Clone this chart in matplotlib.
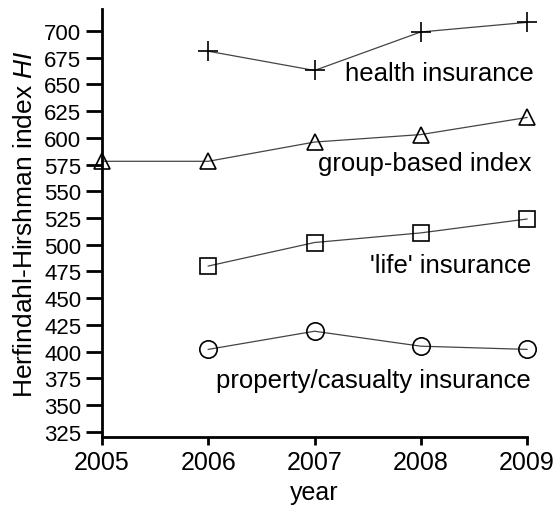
import matplotlib

matplotlib.use("Agg")

import matplotlib.pyplot as plt

years = [2005, 2006, 2007, 2008, 2009]

health_years = [2006, 2007, 2008, 2009]
health = [681, 663, 699, 708]

group_years = [2005, 2006, 2007, 2008, 2009]
group = [578, 578, 596, 603, 619]

life_years = [2006, 2007, 2008, 2009]
life = [480, 502, 511, 524]

property_years = [2006, 2007, 2008, 2009]
property_cas = [402, 419, 405, 402]

yticks = list(range(325, 701, 25))

plt.rcParams["font.family"] = ["Liberation Sans", "DejaVu Sans"]
plt.rcParams["mathtext.fontset"] = "custom"
plt.rcParams["mathtext.it"] = "Liberation Sans:italic"

fig = plt.figure(figsize=(5.58, 5.10), dpi=100)
ax = fig.add_axes([102 / 558, 1 - 437.5 / 510, 425 / 558, 427.5 / 510])

line_kw = dict(color="#444444", lw=0.9, mfc="none", mec="black", mew=1.2, clip_on=False)
ax.plot(health_years, health, marker="+", ms=14, **line_kw)
ax.plot(group_years, group, marker="^", ms=12, **line_kw)
ax.plot(life_years, life, marker="s", ms=11.5, **line_kw)
ax.plot(property_years, property_cas, marker="o", ms=12.5, **line_kw)

# series names, right-aligned just past the last year, y in data units
label_kw = dict(fontsize=18.5, ha="right", va="baseline", transform=ax.get_yaxis_transform())
ax.text(1.015, 654, "health insurance", **label_kw)
ax.text(1.01, 570, "group-based index", **label_kw)
ax.text(1.01, 474.5, "'life' insurance", **label_kw)
ax.text(1.01, 367, "property/casualty insurance", **label_kw)

ax.set_xlim(2005, 2009)
ax.set_ylim(320.5, 720.5)
ax.set_xticks(years)
ax.set_yticks(yticks)
ax.tick_params(axis="both", width=2, direction="out", colors="black")
ax.tick_params(axis="y", length=11.5, pad=3.5, labelsize=16)
ax.tick_params(axis="x", length=6, pad=4, labelsize=18)

for side in ("top", "right"):
    ax.spines[side].set_visible(False)
for side in ("left", "bottom"):
    ax.spines[side].set_linewidth(2)

ax.set_xlabel("year", fontsize=18, labelpad=4)
ax.set_ylabel("Herfindahl-Hirshman index $\\it{HI}$", fontsize=19, labelpad=5)

fig.savefig("out.png", dpi=100)
